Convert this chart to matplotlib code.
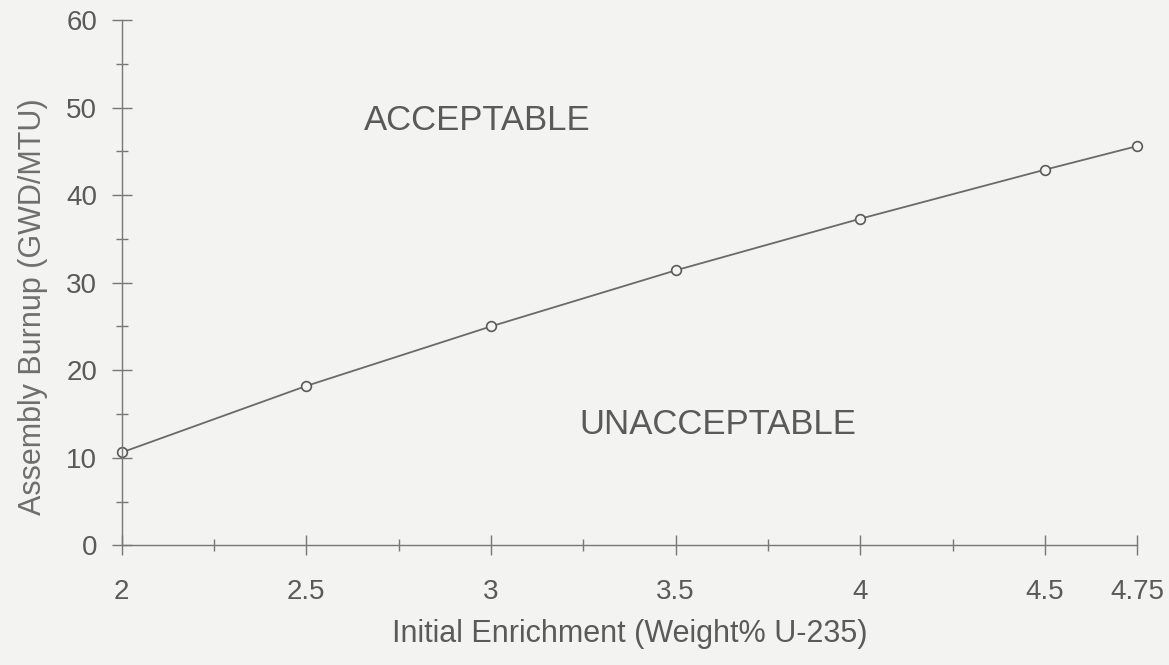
import matplotlib.pyplot as plt
from matplotlib.ticker import MultipleLocator

plt.rcParams['font.family'] = ['Liberation Sans', 'DejaVu Sans']

# enrichment (wt% U-235) vs minimum assembly burnup (GWD/MTU)
enrichment = [2.0, 2.5, 3.0, 3.5, 4.0, 4.5, 4.75]
burnup = [10.6, 18.2, 25.0, 31.4, 37.3, 42.9, 45.6]

xticks = [2, 2.5, 3, 3.5, 4, 4.5, 4.75]
xticklabels = ['2', '2.5', '3', '3.5', '4', '4.5', '4.75']
yticks = [0, 10, 20, 30, 40, 50, 60]

bg = '#f3f3f1'
ink = '#5a5a5a'

fig = plt.figure(figsize=(11.69, 6.65), dpi=100, facecolor=bg)
ax = fig.add_axes([0.104, 0.180, 0.869, 0.790], facecolor=bg)

ax.plot(enrichment, burnup, color='#6a6a6a', linewidth=1.3,
        marker='o', markersize=7, markerfacecolor=bg,
        markeredgecolor='#5a5a5a', markeredgewidth=1.2, clip_on=False)

ax.set_xlim(2, 4.75)
ax.set_ylim(0, 60)
ax.set_xticks(xticks)
ax.set_xticklabels(xticklabels)
ax.set_yticks(yticks)
ax.xaxis.set_minor_locator(MultipleLocator(0.25))
ax.yaxis.set_minor_locator(MultipleLocator(5))

for side in ['top', 'right']:
    ax.spines[side].set_visible(False)
for side in ['left', 'bottom']:
    ax.spines[side].set_color('#777777')
    ax.spines[side].set_linewidth(1.0)

ax.tick_params(which='major', direction='inout', length=15, width=1.0,
               color='#777777', labelcolor=ink, labelsize=20)
ax.tick_params(which='minor', direction='inout', length=8, width=1.0,
               color='#777777')
ax.tick_params(axis='x', which='major', pad=17)
ax.tick_params(axis='y', which='major', pad=10)

ax.set_xlabel('Initial Enrichment (Weight% U-235)', fontsize=22,
              color=ink, labelpad=10)
ax.set_ylabel('Assembly Burnup (GWD/MTU)', fontsize=22, color='#6e6e6e')
ax.yaxis.set_label_coords(-0.072, 0.455)

ax.text(2.655, 48.5, 'ACCEPTABLE', fontsize=25, color=ink, va='center')
ax.text(3.24, 13.8, 'UNACCEPTABLE', fontsize=25, color=ink, va='center')

fig.savefig('out.png', dpi=100, facecolor=bg)
